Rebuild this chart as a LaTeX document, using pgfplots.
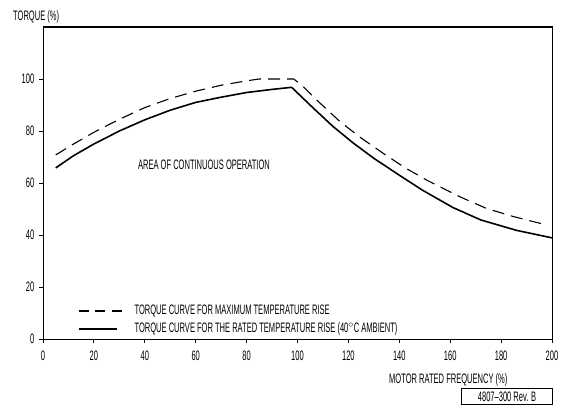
\documentclass[border=0pt]{standalone}
\usepackage{fontspec}
\setmainfont[FakeStretch=0.55]{Liberation Sans}
\usepackage{pgfplots}
\pgfplotsset{compat=1.18}
\begin{document}
\fontsize{13.7}{15}\selectfont
\begin{tikzpicture}[x=1pt,y=1pt]
\path (0,0) rectangle (564,407);
\begin{axis}[
  at={(43pt,68pt)}, anchor=south west,
  scale only axis, width=509pt, height=312pt,
  xmin=0, xmax=200, ymin=0, ymax=120,
  xtick={0,20,...,200}, ytick={0,20,...,100},
  xtick pos=bottom, ytick pos=left,
  tick align=outside, major tick length=4pt,
  tick style={black, line width=0.9pt},
  x tick label style={yshift=-3pt},
  tick label style={font=\fontsize{13.7}{15}\selectfont},
  axis line style={line width=1pt},
  /pgf/number format/assume math mode=true,
  legend style={at={(axis cs:12.5,0)}, anchor=south west, draw=none, fill=none,
    row sep=2pt, column sep=10pt, font=\fontsize{13.7}{15}\selectfont, cells={anchor=west}},
  legend image code/.code={\draw[#1] (0pt,0pt) -- (43pt,0pt);},
  legend cell align=left,
  clip=false,
]
\addplot[black, line width=1.1pt, dash pattern=on 12pt off 7pt,
  legend image post style={dash pattern=on 10pt off 6.5pt}] coordinates {
 (5,70.8) (12,75) (20,79.5) (30,84.5) (40,89) (50,92.5) (60,95.3) (70,97.6) (80,99.3) (85,100) (98.5,100)
 (101.6,97.7) (108,91.5) (116.7,83.6) (125,77.3) (133.7,71.4) (142,66) (151,61)
 (163.8,54.7) (174.3,50.2) (184.8,47.1) (195.3,44.5) (197,44.1)};
\addlegendentry{TORQUE CURVE FOR MAXIMUM TEMPERATURE RISE}
\addplot[black, line width=1.6pt, legend image post style={shorten >=5pt}] coordinates {
 (5,65.8) (12,70.5) (20,75) (30,80) (40,84.3) (50,88) (60,91) (70,93) (80,94.8) (90,96) (97.7,96.8)
 (106,89) (114,81.7) (122,75.3) (130,69.5) (140,63) (149,57.3) (161,50.6)
 (172,45.8) (186,41.8) (200,38.9)};
\addlegendentry{TORQUE CURVE FOR THE RATED TEMPERATURE RISE (40$^\circ$C AMBIENT)}
\draw[line width=2pt] (rel axis cs:0,1) -- (rel axis cs:1,1);
\node[anchor=west, inner sep=0pt] at (axis cs:37.3,67) {AREA OF CONTINUOUS OPERATION};
\end{axis}
\node[anchor=west, inner sep=0pt] at (13,390) {TORQUE (\%)};
\node[anchor=west, inner sep=0pt] at (389,27) {MOTOR RATED FREQUENCY (\%)};
\node[anchor=south east, draw, line width=0.9pt, inner sep=1.5pt, minimum width=91pt, minimum height=16pt] at (553,2) {4807--300 Rev. B};
\end{tikzpicture}
\end{document}
